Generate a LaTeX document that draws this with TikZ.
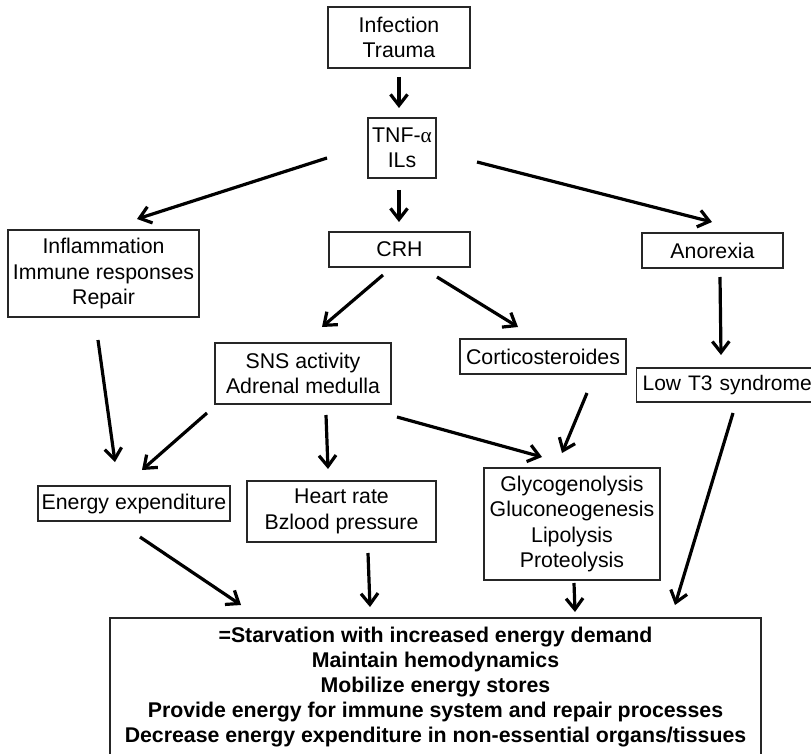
\documentclass[tikz,border=0pt]{standalone}
\usepackage{fontspec}
\setmainfont{Liberation Sans}
\newfontfamily\greekfont{Liberation Serif}
\usetikzlibrary{arrows.meta}
\begin{document}
\begin{tikzpicture}[x=1pt,y=-1pt,
  box/.style={draw=black!85, line width=1.2pt, inner sep=0pt, align=center,
              font=\fontsize{21.3}{25.5}\selectfont},
  boldbox/.style={box, font=\fontsize{21.3}{25}\selectfont\bfseries},
  flow/.style={line width=3.2pt, -{Straight Barb[length=11pt,width=17pt]}},
]
\useasboundingbox (0,0) rectangle (811,754);

% boxes
\node[box, minimum width=142pt, minimum height=61pt] (inf) at (399,37.5) {Infection\\Trauma};
\node[box, minimum width=68pt, minimum height=60pt] (tnf) at (402,148) {TNF-{\greekfont α}\\ILs};
\node[box, minimum width=191pt, minimum height=87pt] (infl) at (103.5,273.5) {Inflammation\\Immune responses\\Repair};
\node[box, minimum width=141pt, minimum height=35pt] (crh) at (399.5,249.5) {CRH};
\node[box, minimum width=141pt, minimum height=35pt] (anor) at (712.5,250.5) {Anorexia};
\node[box, minimum width=176pt, minimum height=61pt] (sns) at (303,373.5) {SNS activity\\Adrenal medulla};
\node[box, minimum width=166pt, minimum height=35pt] (cort) at (543,356.5) {Corticosteroides};
\node[box, anchor=west, inner xsep=6pt, text width=172pt, align=left, minimum height=34pt,
      font=\fontsize{21}{24}\selectfont] (lowt) at (636,385) {Low T3 syndrome};
\node[box, minimum width=192pt, minimum height=35pt] (energy) at (134,503.5) {Energy expenditure};
\node[box, minimum width=189pt, minimum height=61pt] (heart) at (341.5,511.5) {Heart rate\\Bzlood pressure};
\node[box, minimum width=176pt, minimum height=112pt] (glyco) at (572,524) {Glycogenolysis\\Gluconeogenesis\\Lipolysis\\Proteolysis};
\node[boldbox, minimum width=651pt, minimum height=138pt] (result) at (435.5,687)
  {=Starvation with increased energy demand\\Maintain hemodynamics\\Mobilize energy stores\\Provide energy for immune system and repair processes\\Decrease energy expenditure in non-essential organs/tissues};

% arrow ends between the boxes
\coordinate (inf-o) at (399,77);      \coordinate (tnf-i) at (399,108);
\coordinate (tnf-ol) at (327,158);    \coordinate (infl-i) at (137,219);
\coordinate (tnf-ob) at (399,190);    \coordinate (crh-i) at (399,222);
\coordinate (tnf-or) at (477,162);    \coordinate (anor-i) at (712,222);
\coordinate (crh-ol) at (383,275);    \coordinate (sns-i) at (322,327);
\coordinate (crh-or) at (437,277);    \coordinate (cort-i) at (518,327);
\coordinate (anor-o) at (720,277);    \coordinate (lowt-i) at (721,355);
\coordinate (infl-o) at (98,340);     \coordinate (energy-il) at (115,462);
\coordinate (sns-ol) at (207,413);    \coordinate (energy-ir) at (142,470);
\coordinate (sns-ob) at (326,415);    \coordinate (heart-i) at (328,469);
\coordinate (sns-or) at (397,417);    \coordinate (glyco-il) at (542,457);
\coordinate (cort-o) at (587,393);    \coordinate (glyco-ir) at (562,453);
\coordinate (energy-o) at (140,537);  \coordinate (result-i1) at (241,605);
\coordinate (heart-o) at (368,553);   \coordinate (result-i2) at (370,607);
\coordinate (glyco-o) at (574,583);   \coordinate (result-i3) at (575,612);
\coordinate (lowt-o) at (733,413);    \coordinate (result-i4) at (675,605);

% connectors
\draw[flow] (inf-o) -- (tnf-i);
\draw[flow] (tnf-ol) -- (infl-i);
\draw[flow] (tnf-ob) -- (crh-i);
\draw[flow] (tnf-or) -- (anor-i);
\draw[flow] (crh-ol) -- (sns-i);
\draw[flow] (crh-or) -- (cort-i);
\draw[flow] (anor-o) -- (lowt-i);
\draw[flow] (infl-o) -- (energy-il);
\draw[flow] (sns-ol) -- (energy-ir);
\draw[flow] (sns-ob) -- (heart-i);
\draw[flow] (sns-or) -- (glyco-il);
\draw[flow] (cort-o) -- (glyco-ir);
\draw[flow] (energy-o) -- (result-i1);
\draw[flow] (heart-o) -- (result-i2);
\draw[flow] (glyco-o) -- (result-i3);
\draw[flow] (lowt-o) -- (result-i4);
\end{tikzpicture}
\end{document}
